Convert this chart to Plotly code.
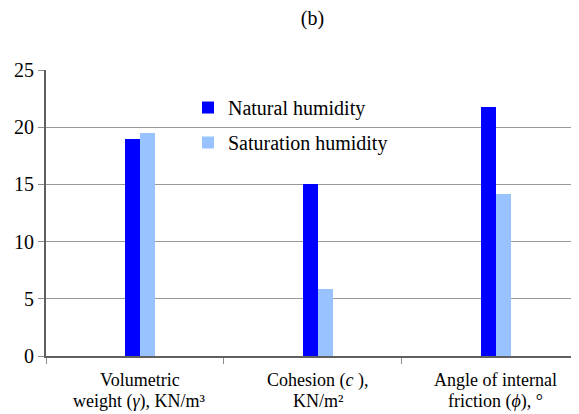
import plotly.graph_objects as go

categories = ["Volumetric weight", "Cohesion", "Angle of internal friction"]
label_line1 = ["Volumetric", "Cohesion (<i>c</i> ),", "Angle of internal"]
label_line2 = ["weight (<i>γ</i>), KN/m³", "KN/m²", "friction (<i>ϕ</i>), °"]
natural = [19.0, 15.0, 21.8]
saturation = [19.5, 5.9, 14.2]
series_names = ["Natural humidity", "Saturation humidity"]
y_ticks = [0, 5, 10, 15, 20, 25]

FONT = "Liberation Serif, Times New Roman, serif"
fig = go.Figure()
fig.add_trace(go.Bar(x=categories, y=natural, name=series_names[0],
                     marker=dict(color="#0000FF", line=dict(width=0)),
                     width=0.0843, offset=-0.0535, legendgroup="a"))
fig.add_trace(go.Bar(x=categories, y=saturation, name=series_names[1],
                     marker=dict(color="#99C3FF", line=dict(width=0)),
                     width=0.0843, offset=0.031, legendgroup="b"))

annotations = []
for cat, l1, l2 in zip(categories, label_line1, label_line2):
    for txt, ys in ((l1, -24), (l2, -45)):
        annotations.append(dict(x=cat, xref="x", y=0, yref="paper", text=txt,
                                showarrow=False, xanchor="center", yanchor="middle",
                                xshift=5, yshift=ys,
                                font=dict(family=FONT, size=18, color="black")))

fig.update_layout(
    width=571, height=406,
    margin=dict(l=38, r=0, t=62, b=58, autoexpand=False),
    paper_bgcolor="white", plot_bgcolor="white",
    font=dict(family=FONT, size=20, color="black"),
    title=dict(text="(b)", xref="paper", x=0.5, xanchor="center",
               yref="container", y=0.9754, yanchor="middle",
               font=dict(family=FONT, size=20, color="black")),
    showlegend=True,
    legend=dict(x=0.2664, y=0.937, xanchor="left", yanchor="top",
                bgcolor="rgba(0,0,0,0)", font=dict(family=FONT, size=20),
                tracegroupgap=6, traceorder="grouped"),
    annotations=annotations,
    bargap=0,
    xaxis=dict(type="category", showline=True, linecolor="#606060", linewidth=2,
               ticks="outside", tickson="boundaries", ticklen=6, tickcolor="#8c8c8c",
               showgrid=False, showticklabels=False, automargin=False),
    yaxis=dict(range=[0, 25], tickvals=y_ticks, showline=True, linecolor="#606060",
               linewidth=2, ticks="outside", ticklen=6, tickcolor="#8c8c8c",
               showgrid=True, gridcolor="#999999", gridwidth=1, zeroline=False,
               automargin=False, tickfont=dict(family=FONT, size=20, color="black")),
)

fig.write_html("out.html")
